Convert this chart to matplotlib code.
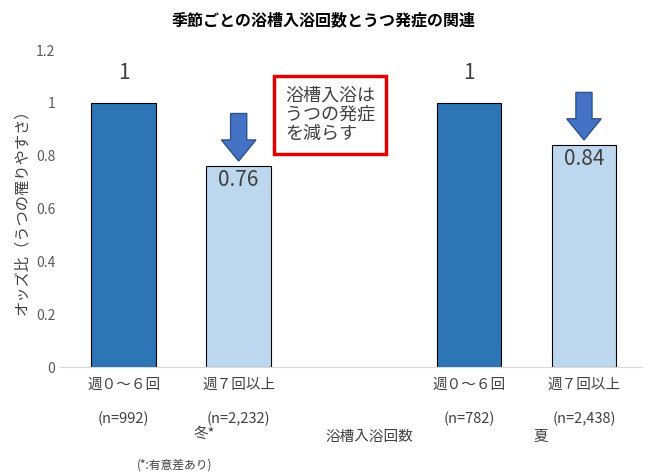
import matplotlib
matplotlib.use("Agg")
import matplotlib.pyplot as plt
from matplotlib.patches import FancyArrow

plt.rcParams['font.family'] = ['Noto Sans CJK JP', 'DejaVu Sans']

positions = [0, 1, 3, 4]
values = [1.0, 0.76, 1.0, 0.84]
value_labels = ["1", "0.76", "1", "0.84"]
colors = ["#2E75B6", "#BDD7EE", "#2E75B6", "#BDD7EE"]
tick_labels = ["週０～６回\n(n=992)", "週７回以上\n(n=2,232)", "週０～６回\n(n=782)", "週７回以上\n(n=2,438)"]
arrow_idx = [1, 3]

fig = plt.figure(figsize=(6.48, 4.73), dpi=100)
ax = fig.add_axes([0.093, 0.224, 0.897, 0.67])
ax.bar(positions, values, width=0.56, color=colors, edgecolor="black", linewidth=0.8)
ax.set_xlim(-0.55, 4.5)
ax.set_ylim(0, 1.2)
ax.set_yticks([0, 0.2, 0.4, 0.6, 0.8, 1.0, 1.2])
ax.set_yticklabels(["0", "0.2", "0.4", "0.6", "0.8", "1", "1.2"], color="#595959", fontsize=10)
for s in ["top", "right", "left"]:
    ax.spines[s].set_visible(False)
ax.spines["bottom"].set_color("#D9D9D9")
ax.tick_params(length=0)
ax.set_xticks(positions)
ax.set_xticklabels(tick_labels, fontsize=10.5, color="#404040", linespacing=2.7)
ax.tick_params(axis="x", pad=8)

for p, v, l in zip(positions, values, value_labels):
    if v >= 1:
        ax.text(p, v + 0.07, l, ha="center", va="bottom", fontsize=15, color="#404040")
    else:
        ax.text(p, v - 0.01, l, ha="center", va="top", fontsize=15, color="#404040")
for i in arrow_idx:
    p, v = positions[i], values[i]
    ax.add_patch(FancyArrow(p, v + 0.2, 0, -0.18, width=0.14, head_width=0.3,
                            head_length=0.08, length_includes_head=True,
                            facecolor="#4472C4", edgecolor="#2F528F", linewidth=1))

ax.set_ylabel("オッズ比（うつの罹りやすさ）", fontsize=11, color="#404040")
fig.text(0.5, 0.975, "季節ごとの浴槽入浴回数とうつ発症の関連", ha="center", va="top",
         fontsize=11.5, fontweight="bold")
fig.text(0.44, 0.757, "浴槽入浴は\nうつの発症\nを減らす", ha="left", va="center", fontsize=13,
         color="#404040", linespacing=1.1,
         bbox=dict(boxstyle="square,pad=0.6", facecolor="white", edgecolor="#E00000", linewidth=2.5))
fig.text(0.315, 0.075, "冬*", ha="center", fontsize=10.5, color="#404040")
fig.text(0.835, 0.068, "夏", ha="center", fontsize=10.5, color="#404040")
fig.text(0.57, 0.068, "浴槽入浴回数", ha="center", fontsize=10.5, color="#404040")
fig.text(0.27, 0.01, "(*:有意差あり)", ha="center", fontsize=8.5, color="#404040")
fig.savefig("out.png", dpi=100)
